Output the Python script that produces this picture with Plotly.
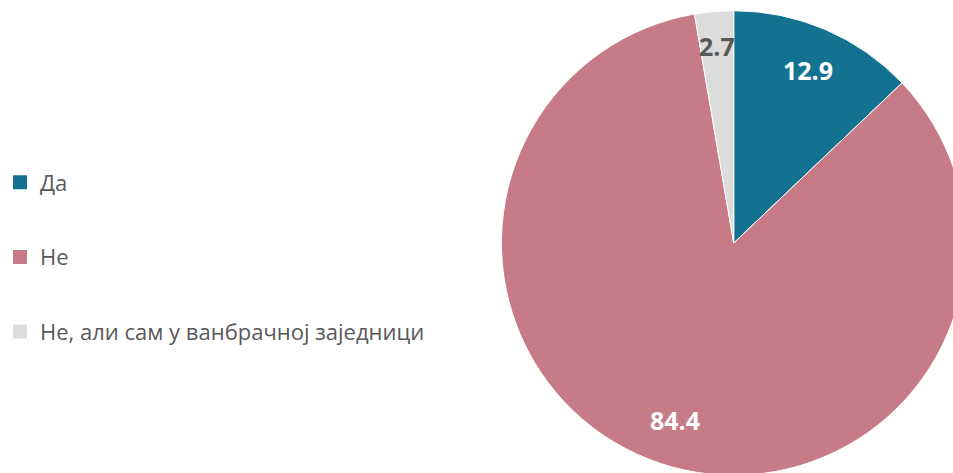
import math
import plotly.graph_objects as go

categories = ["Да", "Не", "Не, али сам у ванбрачној заједници"]
values = [12.9, 84.4, 2.7]
colors = ["#13728F", "#C67B86", "#DCDCDC"]
text_colors = ["#FFFFFF", "#FFFFFF", "#595959"]
label_radius = [0.81, 0.8, 0.85]  # fraction of pie radius for data labels

# layout geometry (pixels)
W, H, TOP = 966, 476, 10
R = (H - TOP) / 2
CX = 733

fig = go.Figure()

fig.add_trace(go.Pie(
    labels=categories,
    values=values,
    marker=dict(colors=colors, line=dict(color="#FFFFFF", width=1)),
    sort=False,
    direction="clockwise",
    rotation=0,
    textinfo="none",
    domain=dict(x=[(CX - R) / W, (CX + R) / W], y=[0, 1]),
    showlegend=False,
    hoverinfo="label+value",
))

# data labels placed on each slice's mid-angle
total = sum(values)
cum = 0.0
for v, tc, fr in zip(values, text_colors, label_radius):
    mid = (cum + v / 2) / total * 2 * math.pi
    cum += v
    px = CX + math.sin(mid) * R * fr
    py = R - math.cos(mid) * R * fr  # from top of plot area
    fig.add_annotation(
        x=px / W, y=1 - py / (H - TOP), xref="paper", yref="paper",
        text=f"<b>{v:.1f}</b>", showarrow=False,
        font=dict(family="Open Sans", size=25, color=tc),
        xanchor="center", yanchor="middle",
    )

# legend entries (one group each so they can be spaced apart)
for cat, col in zip(categories, colors):
    fig.add_trace(go.Scatter(
        x=[None], y=[None], mode="markers", name=cat,
        marker=dict(symbol="square", size=14, color=col),
        legendgroup=cat, showlegend=True,
    ))

fig.update_layout(
    width=W, height=H,
    margin=dict(l=0, r=0, t=TOP, b=0),
    paper_bgcolor="white", plot_bgcolor="white",
    xaxis=dict(visible=False), yaxis=dict(visible=False),
    legend=dict(
        x=-3 / W, y=0.47, xanchor="left", yanchor="middle",
        font=dict(family="Open Sans", size=22, color="#595959"),
        tracegroupgap=43, itemwidth=30,
    ),
)

fig.write_html(
    "out.html",
    config={"displayModeBar": False},
    post_script="document.documentElement.style.overflow='hidden';"
                "document.body.style.overflow='hidden';"
                "document.body.style.margin='0';",
)
